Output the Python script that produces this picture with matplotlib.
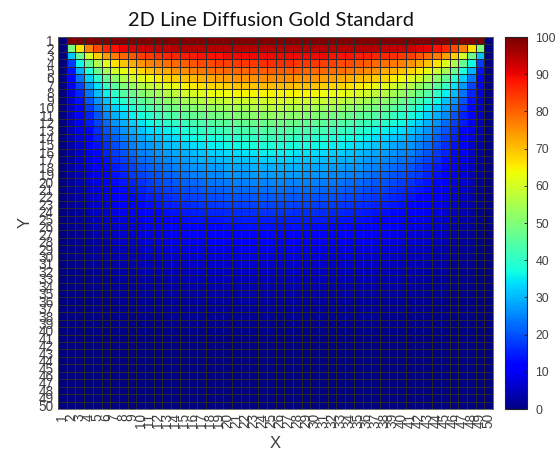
import numpy as np
import matplotlib
matplotlib.use("Agg")
import matplotlib.pyplot as plt

TITLE = "2D Line Diffusion Gold Standard"
X_LABELS = [str(i) for i in range(1, 51)]
Y_LABELS = [str(i) for i in range(1, 51)]
CBAR_TICKS = [0, 10, 20, 30, 40, 50, 60, 70, 80, 90, 100]

# values, columns 2 to 25 (right half is its mirror image)
ROW_01 = [100] * 24
ROW_02 = [50, 67, 77, 83, 87, 89, 91, 92, 93, 94, 94, 94, 95, 95, 95, 95, 95, 95, 95, 95, 95, 95, 95, 95]
ROW_03 = [32, 48, 61, 69, 74, 78, 80, 82, 84, 85, 86, 87, 87, 88, 88, 89, 89, 89, 90, 90, 90, 90, 90, 90]
ROW_04 = [18, 37, 47, 56, 62, 67, 70, 73, 75, 77, 78, 79, 80, 81, 82, 83, 83, 84, 84, 85, 85, 85, 86, 86]
ROW_05 = [14, 30, 39, 48, 55, 60, 63, 66, 68, 70, 72, 73, 75, 76, 77, 78, 79, 79, 80, 80, 80, 81, 81, 81]
ROW_06 = [12, 24, 33, 40, 47, 52, 56, 60, 62, 64, 66, 68, 69, 70, 71, 72, 73, 74, 74, 75, 75, 75, 76, 76]
ROW_07 = [10, 19, 28, 35, 41, 46, 50, 53, 56, 58, 60, 62, 63, 65, 66, 67, 68, 68, 69, 70, 70, 70, 71, 71]
ROW_08 = [8, 16, 24, 31, 36, 41, 45, 48, 51, 53, 55, 57, 58, 60, 61, 62, 63, 63, 64, 65, 65, 65, 65, 65]
ROW_09 = [7, 14, 21, 27, 32, 37, 40, 43, 46, 48, 50, 52, 53, 55, 56, 57, 58, 58, 59, 59, 60, 60, 60, 61]
ROW_10 = [6, 12, 18, 24, 29, 33, 36, 39, 42, 44, 46, 48, 49, 50, 51, 52, 53, 54, 54, 55, 55, 56, 56, 57]
ROW_11 = [6, 11, 16, 21, 26, 30, 33, 36, 38, 40, 42, 44, 45, 46, 47, 48, 49, 49, 50, 51, 51, 52, 52, 53]
ROW_12 = [5, 10, 15, 19, 23, 27, 30, 33, 35, 37, 39, 40, 41, 42, 43, 44, 45, 46, 46, 47, 47, 48, 48, 49]
ROW_13 = [5, 9, 13, 17, 21, 24, 27, 30, 32, 34, 35, 36, 37, 39, 40, 41, 42, 42, 43, 43, 44, 44, 45, 45]
ROW_14 = [4, 8, 12, 16, 19, 22, 25, 27, 29, 31, 32, 33, 34, 36, 37, 38, 38, 39, 40, 40, 41, 41, 42, 42]
ROW_15 = [4, 7, 11, 14, 17, 20, 23, 25, 27, 28, 29, 31, 32, 33, 34, 35, 36, 36, 37, 37, 38, 38, 38, 39]
ROW_16 = [3, 7, 10, 13, 16, 18, 21, 23, 25, 26, 27, 28, 29, 30, 31, 32, 33, 33, 34, 34, 35, 35, 36, 36]
ROW_17 = [3, 6, 9, 12, 14, 17, 19, 21, 23, 24, 25, 26, 27, 28, 29, 30, 30, 31, 31, 32, 32, 32, 33, 33]
ROW_18 = [3, 6, 8, 11, 13, 15, 17, 19, 21, 22, 23, 24, 25, 26, 27, 27, 28, 28, 29, 29, 29, 30, 30, 30]
ROW_19 = [3, 5, 8, 10, 12, 14, 16, 18, 19, 20, 21, 22, 23, 24, 25, 25, 26, 26, 27, 27, 27, 28, 28, 28]
ROW_20 = [2.3, 4.7, 7.0, 9.1, 11.1, 13.0, 14.6, 16.0, 17.3, 18.5, 19.6, 20.5, 21.4, 22.1, 22.8, 23.4, 23.9, 24.3, 24.7, 25.0, 25.3, 25.5, 25.7, 25.8]
ROW_21 = [2.1, 4.2, 6.3, 8.3, 10.1, 11.8, 13.3, 14.6, 15.8, 16.9, 17.9, 18.8, 19.5, 20.2, 20.8, 21.4, 21.8, 22.2, 22.6, 22.9, 23.1, 23.3, 23.4, 23.5]
ROW_22 = [1.9, 3.8, 5.7, 7.5, 9.1, 10.7, 12.0, 13.2, 14.3, 15.3, 16.2, 17.0, 17.7, 18.3, 18.9, 19.4, 19.8, 20.2, 20.5, 20.7, 20.9, 21.1, 21.2, 21.3]
ROW_23 = [1.7, 3.4, 5.1, 6.8, 8.2, 9.6, 10.9, 12.0, 13.0, 13.9, 14.7, 15.4, 16.0, 16.6, 17.1, 17.5, 17.9, 18.2, 18.5, 18.7, 18.9, 19.0, 19.2, 19.3]
ROW_24 = [1.5, 3.1, 4.6, 6.1, 7.4, 8.6, 9.8, 10.8, 11.7, 12.5, 13.2, 13.9, 14.4, 14.9, 15.4, 15.8, 16.1, 16.4, 16.6, 16.8, 17.0, 17.1, 17.2, 17.3]
ROW_25 = [1.2, 2.6, 3.8, 5.0, 6.3, 7.4, 8.4, 9.3, 10.1, 10.9, 11.6, 12.2, 12.8, 13.3, 13.7, 14.1, 14.4, 14.7, 14.9, 15.1, 15.3, 15.4, 15.5, 15.5]
ROW_26 = [1.1, 2.3, 3.4, 4.5, 5.6, 6.6, 7.5, 8.3, 9.1, 9.8, 10.4, 11.0, 11.5, 12.0, 12.4, 12.7, 13.0, 13.2, 13.4, 13.6, 13.7, 13.8, 13.9, 14.0]
ROW_27 = [1.0, 2.0, 3.0, 4.0, 5.0, 5.9, 6.7, 7.4, 8.1, 8.7, 9.3, 9.8, 10.3, 10.7, 11.0, 11.3, 11.6, 11.8, 12.0, 12.1, 12.2, 12.3, 12.4, 12.5]
ROW_28 = [0.9, 1.8, 2.7, 3.5, 4.4, 5.2, 5.9, 6.5, 7.1, 7.7, 8.2, 8.6, 9.0, 9.4, 9.7, 10.0, 10.2, 10.4, 10.5, 10.7, 10.8, 10.9, 11.0, 11.0]
ROW_29 = [0.8, 1.6, 2.3, 3.1, 3.8, 4.5, 5.1, 5.7, 6.2, 6.7, 7.1, 7.5, 7.9, 8.2, 8.5, 8.7, 8.9, 9.0, 9.2, 9.3, 9.4, 9.4, 9.5, 9.5]
ROW_30 = [0.7, 1.4, 2.0, 2.7, 3.3, 3.9, 4.4, 4.9, 5.4, 5.8, 6.2, 6.5, 6.8, 7.1, 7.3, 7.5, 7.7, 7.8, 7.9, 8.0, 8.0, 8.1, 8.1, 8.2]
ROW_31 = [0.6, 1.2, 1.7, 2.3, 2.9, 3.4, 3.8, 4.3, 4.7, 5.0, 5.3, 5.6, 5.9, 6.1, 6.3, 6.4, 6.6, 6.7, 6.8, 6.9, 6.9, 7.0, 7.0, 7.0]
ROW_32 = [0.5, 1.0, 1.5, 2.0, 2.5, 2.9, 3.3, 3.6, 4.0, 4.3, 4.5, 4.8, 5.0, 5.2, 5.3, 5.5, 5.6, 5.7, 5.8, 5.8, 5.9, 5.9, 6.0, 6.0]
ROW_33 = [0.4, 0.8, 1.3, 1.7, 2.1, 2.4, 2.8, 3.1, 3.4, 3.6, 3.8, 4.0, 4.2, 4.4, 4.5, 4.6, 4.7, 4.8, 4.9, 4.9, 5.0, 5.0, 5.0, 5.0]
ROW_34 = [0.4, 0.7, 1.1, 1.4, 1.7, 2.0, 2.3, 2.6, 2.8, 3.0, 3.2, 3.4, 3.5, 3.6, 3.7, 3.8, 3.9, 4.0, 4.0, 4.1, 4.1, 4.1, 4.2, 4.2]
ROW_35 = [0.3, 0.6, 0.9, 1.2, 1.5, 1.7, 1.9, 2.2, 2.4, 2.5, 2.7, 2.8, 2.9, 3.0, 3.1, 3.2, 3.3, 3.3, 3.4, 3.4, 3.4, 3.5, 3.5, 3.5]
ROW_36 = [0.2, 0.5, 0.7, 1.0, 1.2, 1.4, 1.6, 1.8, 1.9, 2.1, 2.2, 2.3, 2.4, 2.5, 2.6, 2.6, 2.7, 2.7, 2.8, 2.8, 2.8, 2.9, 2.9, 2.9]
ROW_37 = [0.2, 0.4, 0.6, 0.8, 1.0, 1.1, 1.3, 1.4, 1.6, 1.7, 1.8, 1.9, 2.0, 2.0, 2.1, 2.1, 2.2, 2.2, 2.2, 2.3, 2.3, 2.3, 2.3, 2.4]
ROW_38 = [0.2, 0.3, 0.5, 0.6, 0.8, 0.9, 1.0, 1.2, 1.3, 1.4, 1.4, 1.5, 1.6, 1.6, 1.7, 1.7, 1.7, 1.8, 1.8, 1.8, 1.8, 1.9, 1.9, 1.9]
ROW_39 = [0.1, 0.3, 0.4, 0.5, 0.6, 0.7, 0.8, 0.9, 1.0, 1.1, 1.1, 1.2, 1.2, 1.3, 1.3, 1.3, 1.4, 1.4, 1.4, 1.4, 1.4, 1.5, 1.5, 1.5]
ROW_40 = [0.1, 0.2, 0.3, 0.4, 0.5, 0.6, 0.6, 0.7, 0.8, 0.8, 0.9, 0.9, 1.0, 1.0, 1.0, 1.0, 1.1, 1.1, 1.1, 1.1, 1.1, 1.1, 1.2, 1.2]
COLD_ROW = [0] * 24

rows = [ROW_01, ROW_02, ROW_03, ROW_04, ROW_05, ROW_06, ROW_07, ROW_08, ROW_09, ROW_10,
        ROW_11, ROW_12, ROW_13, ROW_14, ROW_15, ROW_16, ROW_17, ROW_18, ROW_19, ROW_20,
        ROW_21, ROW_22, ROW_23, ROW_24, ROW_25, ROW_26, ROW_27, ROW_28, ROW_29, ROW_30,
        ROW_31, ROW_32, ROW_33, ROW_34, ROW_35, ROW_36, ROW_37, ROW_38, ROW_39, ROW_40]
rows = rows + [COLD_ROW] * (len(Y_LABELS) - len(rows))

# outer columns stay at zero
grid = np.array([[0] + r + r[::-1] + [0] for r in rows], dtype=float)

W, H = 558, 450
fig = plt.figure(figsize=(W / 100, H / 100), dpi=100)
plt.rcParams["font.family"] = ["Liberation Sans", "DejaVu Sans"]

ax = fig.add_axes([58 / W, 1 - 409 / H, 435 / W, 372 / H])
mesh = ax.pcolormesh(grid, cmap="jet", vmin=0, vmax=100,
                     edgecolors="#2a2a2a", linewidth=0.55)
ax.set_ylim(len(Y_LABELS), 0)

ax.set_xticks(np.arange(len(X_LABELS)) + 0.5)
ax.set_xticklabels(X_LABELS, rotation=90, fontsize=9.8, color="#404040",
                   family="Liberation Sans")
ax.set_yticks(np.arange(len(Y_LABELS)) + 0.5)
ax.set_yticklabels(Y_LABELS, fontsize=9.8, color="#404040", family="Liberation Sans")
ax.tick_params(length=0, pad=3)
for spine in ax.spines.values():
    spine.set_color("#555555")
    spine.set_linewidth(0.6)

ax.set_xlabel("X", fontsize=12, color="#404040")
ax.set_ylabel("Y", fontsize=12, color="#404040")
ax.xaxis.set_label_coords((275 - 58) / 435, (409 - 443) / 372, transform=ax.transAxes)
ax.yaxis.set_label_coords((25 - 58) / 435, (409 - 222) / 372, transform=ax.transAxes)
ax.xaxis.label.set_va("center")
ax.yaxis.label.set_va("center")
fig.text(271 / W, 1 - 20 / H, TITLE, ha="center", va="center", fontsize=14.4,
         color="#111111", family="Lato")

cax = fig.add_axes([505 / W, 1 - 409 / H, 22 / W, 372 / H])
cbar = fig.colorbar(mesh, cax=cax)
cbar.solids.set_edgecolor("face")
cbar.set_ticks(CBAR_TICKS)
cbar.ax.tick_params(direction="in", length=2.5, width=0.6, labelsize=8.8,
                    labelcolor="#404040", color="#222222", pad=6)
cbar.outline.set_linewidth(0.8)
cbar.outline.set_edgecolor("#222222")

fig.savefig("out.png", dpi=100)
